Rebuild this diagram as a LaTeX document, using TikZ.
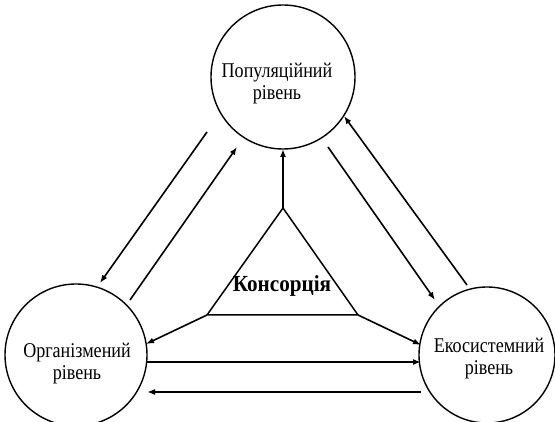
\documentclass[tikz,border=0pt]{standalone}
\usepackage{fontspec}
\setmainfont{Liberation Serif}
\newfontfamily\condfont[FakeStretch=0.86]{Liberation Serif}
\newfontfamily\boldcond[FakeStretch=0.92]{Liberation Serif Bold}
\usetikzlibrary{arrows.meta}
\begin{document}
\begin{tikzpicture}[x=1pt,y=-1pt,
  level/.style={circle,draw,line width=1.4pt,inner sep=0pt},
  lbl/.style={align=center,font=\condfont\fontsize{21}{22}\selectfont,inner sep=0pt},
  arr/.style={line width=1.6pt,-{Latex[length=8pt,width=6pt]}},
  ln/.style={line width=1.5pt}]
\useasboundingbox (0,0) rectangle (555,422);
\node[level,minimum size=144pt] (T) at (283,77) {};
\node[level,minimum size=142pt] (L) at (76,355) {};
\node[level,minimum size=136pt] (R) at (487,355) {};
\node[lbl] (Tt) at (277,84) {Популяційний\\рівень};
\node[lbl] (Lt) at (77,364) {Організмений\\рівень};
\node[lbl] (Rt) at (489,359) {Екосистемний\\рівень};
% triangle
\coordinate (A) at (283,208);
\coordinate (B) at (207,315);
\coordinate (C) at (358,315);
\draw[ln] (A) -- (B) -- (C) -- cycle;
\node[font=\boldcond\fontsize{23}{24}\selectfont,inner sep=0pt,anchor=base] (K) at (282,292) {Консорція};
% arrows from triangle
\coordinate (Ta) at (283,149);
\coordinate (La) at (146,344);
\coordinate (Ra) at (421,345);
\draw[arr] (A) -- (Ta);
\draw[arr] (B) -- (La);
\draw[arr] (C) -- (Ra);
% top-left pair
\coordinate (p1) at (207,132);
\coordinate (p2) at (100,283);
\coordinate (p3) at (130,300);
\coordinate (p4) at (237,147);
\draw[arr] (p1) -- (p2);
\draw[arr] (p3) -- (p4);
% top-right pair
\coordinate (q1) at (328,147);
\coordinate (q2) at (435,300);
\coordinate (q3) at (467,285);
\coordinate (q4) at (344,116);
\draw[arr] (q1) -- (q2);
\draw[arr] (q3) -- (q4);
% bottom pair
\coordinate (r1) at (146,362);
\coordinate (r2) at (421,362);
\coordinate (r3) at (421,392);
\coordinate (r4) at (147,392);
\draw[arr] (r1) -- (r2);
\draw[arr] (r3) -- (r4);
\end{tikzpicture}
\end{document}
